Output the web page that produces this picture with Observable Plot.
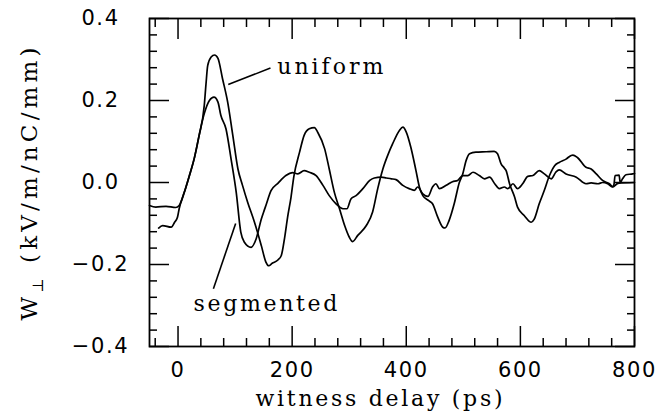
<!DOCTYPE html>
<html>
<head>
<meta charset="utf-8">
<script src="https://cdn.jsdelivr.net/npm/d3@7"></script>
<script src="https://cdn.jsdelivr.net/npm/@observablehq/plot@0.6"></script>
<style>
  html, body { margin: 0; padding: 0; background: #fff; }
  svg { display: block; }
</style>
</head>
<body>
<div id="chart"></div>
<script>
// ---- data ----
const uniformX = [-34,-27,-12,-6,-1,2,11,20,29,37,46,49,52,58,64,70,78,87,96,105,113,122,134,146,154,159,165,175,181,187,192,198,203,213,221,230,239,245,257,265,274,283,292,300,306,315,330,341,350,359,368,376,388,394,400,408,417,423,429,440,446,455,464,468,475,484,493,499,505,511,522,540,554,560,566,572,575,581,590,595,607,619,624,633,642,651,660,668,680,689,692,700,715,724,733,744,756,762,764,766,773,775,779,785,797,800];
const uniformY = [-0.111,-0.105,-0.109,-0.097,-0.085,-0.064,-0.024,0.017,0.062,0.115,0.188,0.24,0.285,0.306,0.311,0.303,0.253,0.196,0.115,0.033,-0.007,-0.048,-0.097,-0.154,-0.194,-0.203,-0.197,-0.189,-0.178,-0.133,-0.085,-0.036,0.015,0.074,0.115,0.131,0.134,0.122,0.082,0.033,-0.024,-0.064,-0.105,-0.133,-0.144,-0.129,-0.105,-0.072,-0.015,0.033,0.068,0.094,0.127,0.135,0.123,0.086,0.029,-0.011,-0.032,-0.045,-0.052,-0.084,-0.109,-0.111,-0.093,-0.052,0,0.021,0.054,0.070,0.074,0.075,0.076,0.070,0.046,0.035,0.029,-0.003,-0.036,-0.06,-0.081,-0.097,-0.09,-0.052,-0.019,0.017,0.041,0.049,0.057,0.066,0.067,0.061,0.037,0.033,0.021,0.005,-0.003,-0.01,-0.005,0.017,0.018,0.0,0.009,0.019,0.021,0.022];

const segmentedX = [-50,-39,-21,-4,2,11,20,29,37,46,55,63,70,75,84,93,102,110,116,128,137,146,151,154,163,175,189,201,210,221,230,242,254,265,277,289,296,303,312,324,336,344,356,365,374,382,394,405,414,420,429,438,446,452,458,470,481,490,499,508,517,528,537,546,555,563,572,578,587,595,604,613,622,633,642,654,662,668,680,698,715,724,736,744,753,762,771,800];
const segmentedY = [-0.056,-0.06,-0.058,-0.061,-0.056,-0.024,0.017,0.062,0.115,0.168,0.2,0.208,0.196,0.164,0.131,0.057,-0.024,-0.121,-0.145,-0.158,-0.137,-0.089,-0.068,-0.056,-0.02,-0.002,0.017,0.024,0.021,0.029,0.025,0.017,-0.007,-0.032,-0.052,-0.064,-0.064,-0.04,-0.032,-0.015,0.005,0.011,0.013,0.011,0.009,0.007,-0.007,-0.015,-0.019,-0.011,-0.028,-0.034,-0.011,-0.003,-0.015,-0.007,0.002,0.005,0.017,0.017,0.025,0.017,0.009,0.013,-0.003,-0.015,-0.011,-0.015,-0.003,-0.015,-0.003,0.015,0.017,0.029,0.021,0.009,0.025,0.031,0.021,0.013,-0.003,-0.001,-0.003,0.0,-0.003,-0.011,-0.002,0.0];

// axis ticks
const xMajor = [0, 200, 400, 600, 800];
const xMinor = [-40, 40, 80, 120, 160, 240, 280, 320, 360, 440, 480, 520, 560, 640, 680, 720, 760];
const yMajor = [-0.4, -0.2, 0, 0.2, 0.4];
const yMinor = [-0.36, -0.32, -0.28, -0.24, -0.16, -0.12, -0.08, -0.04, 0.04, 0.08, 0.12, 0.16, 0.24, 0.28, 0.32, 0.36];

// annotations
const annotLabels = ["uniform", "segmented"];
const annotX = [174, 27];
const annotY = [0.281, -0.296];
const pointerX1 = [88, 101];
const pointerY1 = [0.239, -0.10];
const pointerX2 = [162, 62];
const pointerY2 = [0.279, -0.259];

const xTitle = "witness delay (ps)";
const yTitle = "W⊥ (kV/m/nC/mm)";

// ---- build tables ----
const uniform = uniformX.map((x, i) => ({x, y: uniformY[i]}));
const segmented = segmentedX.map((x, i) => ({x, y: segmentedY[i]}));
const annots = annotLabels.map((t, i) => ({t, x: annotX[i], y: annotY[i]}));
const pointers = pointerX1.map((x1, i) => ({x1, y1: pointerY1[i], x2: pointerX2[i], y2: pointerY2[i]}));

const serif = "DejaVu Serif";
const sans = "DejaVu Sans";

const plot = Plot.plot({
  width: 655,
  height: 420,
  marginLeft: 149,
  marginRight: 21,
  marginTop: 18,
  marginBottom: 74,
  style: {background: "#fff", color: "#000"},
  x: {domain: [-50, 800]},
  y: {domain: [-0.4, 0.4]},
  marks: [
    // inward ticks on all four sides
    Plot.axisX(xMajor, {anchor: "bottom", tickSize: -20, strokeWidth: 1.5, fill: "none"}),
    Plot.axisX(xMinor, {anchor: "bottom", tickSize: -8, strokeWidth: 1.5, fill: "none"}),
    Plot.axisX(xMajor, {anchor: "top", tickSize: -20, strokeWidth: 1.5, fill: "none"}),
    Plot.axisX(xMinor, {anchor: "top", tickSize: -8, strokeWidth: 1.5, fill: "none"}),
    Plot.axisY(yMajor, {anchor: "left", tickSize: -20, strokeWidth: 1.5, fill: "none"}),
    Plot.axisY(yMinor, {anchor: "left", tickSize: -8, strokeWidth: 1.5, fill: "none"}),
    Plot.axisY(yMajor, {anchor: "right", tickSize: -20, strokeWidth: 1.5, fill: "none"}),
    Plot.axisY(yMinor, {anchor: "right", tickSize: -8, strokeWidth: 1.5, fill: "none"}),
    // tick labels
    Plot.axisX(xMajor, {anchor: "bottom", tickSize: 0, tickPadding: 16, label: null,
      tickFormat: d => String(d), fontFamily: sans, fontSize: 21}),
    Plot.axisY(yMajor, {anchor: "left", tickSize: 0, tickPadding: 49, label: null, textAnchor: "middle",
      tickFormat: d3.format(".1f"), fontFamily: sans, fontSize: 21}),
    Plot.frame({strokeWidth: 1.8}),
    // curves
    Plot.line(uniform, {x: "x", y: "y", stroke: "#000", strokeWidth: 1.7, curve: "monotone-x"}),
    Plot.line(segmented, {x: "x", y: "y", stroke: "#000", strokeWidth: 1.7, curve: "monotone-x"}),
    // annotations
    Plot.link(pointers, {x1: "x1", y1: "y1", x2: "x2", y2: "y2", stroke: "#000", strokeWidth: 1.6}),
    Plot.text(annots, {x: "x", y: "y", text: "t", textAnchor: "start", lineAnchor: "middle",
      fontFamily: serif, fontSize: 22, fill: "#000"}),
    // axis titles
    Plot.text([xTitle], {text: d => d, frameAnchor: "bottom", textAnchor: "middle", dx: -13, dy: 52, lineAnchor: "middle",
      fontFamily: serif, fontSize: 22, fill: "#000"}),
    Plot.text([yTitle], {text: d => d, frameAnchor: "left", textAnchor: "middle", rotate: -90, dx: -119.5, dy: 1.5, lineAnchor: "middle",
      fontFamily: serif, fontSize: 23, fill: "#000"})
  ]
});

document.getElementById("chart").append(plot);

// widen the texts as in the reference (old wide plotting fonts)
const ns = "http://www.w3.org/2000/svg";
const widths = {"uniform": 106, "segmented": 144, [xTitle]: 247, [yTitle]: 273};
for (const t of plot.querySelectorAll("text")) {
  const s = t.textContent;
  if (s in widths) {
    if (s === yTitle) {
      t.textContent = "";
      const a = document.createElementNS(ns, "tspan"); a.textContent = "W";
      const b = document.createElementNS(ns, "tspan"); b.textContent = "⊥";
      b.setAttribute("dy", "6"); b.setAttribute("font-size", "15");
      const c = document.createElementNS(ns, "tspan"); c.textContent = " (kV/m/nC/mm)";
      c.setAttribute("dy", "-6");
      t.append(a, b, c);
    }
    t.setAttribute("textLength", widths[s]);
    t.setAttribute("lengthAdjust", "spacing");
  } else if (/^[−\-]?[0-9.]+$/.test(s)) {
    t.setAttribute("letter-spacing", "1.6");
  }
}
</script>
</body>
</html>
